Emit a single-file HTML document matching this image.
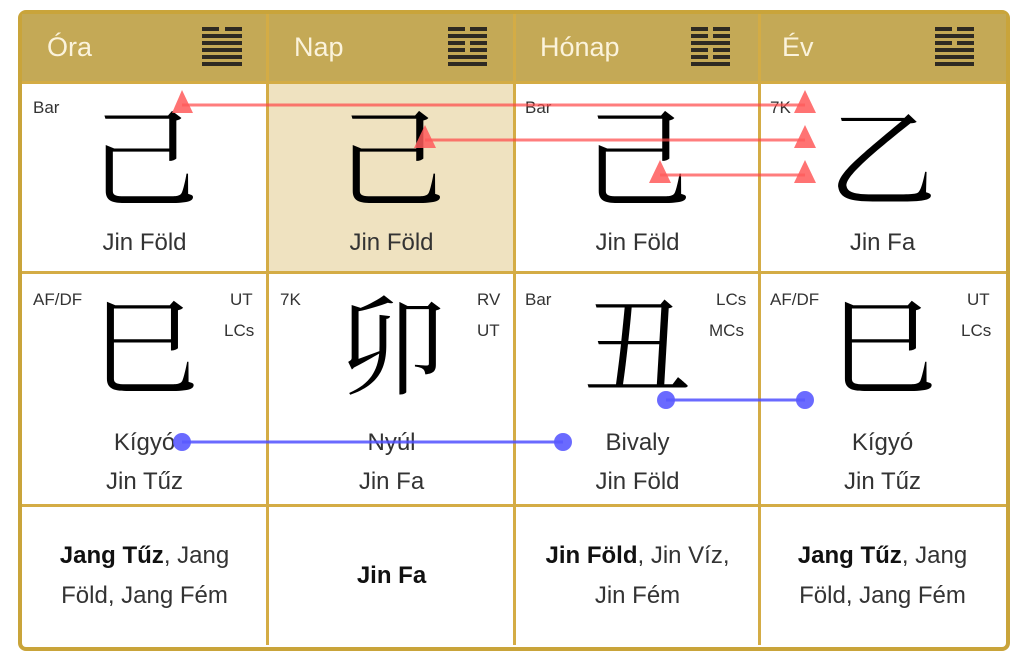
<!DOCTYPE html>
<html><head><meta charset="utf-8"><style>
body{margin:0;width:1029px;height:659px;background:#fff;position:relative;overflow:hidden;font-family:"Liberation Sans",sans-serif;color:#222}
.abs{position:absolute}
.frame{left:18px;top:10px;width:984px;height:633px;border:4px solid #c9a43a;border-radius:8px;background:#fff}
.hdr{top:14px;height:68px;background:#c4a956}
.vl{position:absolute;width:3px;background:#d4ac45;top:14px;height:631px}
.hl{position:absolute;height:3px;background:#d4ac45;left:22px;width:984px}
.ht{color:#fbf3dc;font-size:27px;top:32px}
.ch{font-family:"Noto Serif CJK SC","Noto Sans CJK SC",serif;font-size:108px;line-height:1;text-align:center;color:#000;width:245px}
.lb{font-size:24px;text-align:center;width:245px;color:#333}
.sm{font-size:17px;color:#333}
.bt{font-size:24px;text-align:center;width:245px;line-height:40px;color:#333}
b{color:#111}
</style></head><body>
<div class="abs frame"></div>
<div class="abs hdr" style="left:22px;width:984px"></div>
<div class="abs" style="left:269px;top:82px;width:245px;height:190px;background:#efe2c0"></div>
<div class="vl" style="left:266px"></div>
<div class="vl" style="left:513px"></div>
<div class="vl" style="left:758px"></div>
<div class="hl" style="top:81px"></div>
<div class="hl" style="top:271px"></div>
<div class="hl" style="top:504px"></div>

<div class="abs ht" style="left:47px">Óra</div>
<div class="abs ht" style="left:294px">Nap</div>
<div class="abs ht" style="left:540px">Hónap</div>
<div class="abs ht" style="left:782px">Év</div>

<svg class="abs" style="left:0;top:0" width="1029" height="659">
<g fill="#2e2a22">
<rect x="202" y="27" width="17" height="4"/><rect x="225" y="27" width="17" height="4"/>
<rect x="202" y="34" width="40" height="4"/><rect x="202" y="41" width="40" height="4"/><rect x="202" y="48" width="40" height="4"/><rect x="202" y="55" width="40" height="4"/><rect x="202" y="62" width="40" height="4"/>
<rect x="448" y="27" width="17" height="4"/><rect x="470" y="27" width="17" height="4"/>
<rect x="448" y="34" width="39" height="4"/>
<rect x="448" y="41" width="17" height="4"/><rect x="470" y="41" width="17" height="4"/>
<rect x="448" y="48" width="17" height="4"/><rect x="470" y="48" width="17" height="4"/>
<rect x="448" y="55" width="39" height="4"/><rect x="448" y="62" width="39" height="4"/>
<rect x="691" y="27" width="17" height="4"/><rect x="713" y="27" width="17" height="4"/>
<rect x="691" y="34" width="17" height="4"/><rect x="713" y="34" width="17" height="4"/>
<rect x="691" y="41" width="39" height="4"/>
<rect x="691" y="48" width="17" height="4"/><rect x="713" y="48" width="17" height="4"/>
<rect x="691" y="55" width="17" height="4"/><rect x="713" y="55" width="17" height="4"/>
<rect x="691" y="62" width="39" height="4"/>
<rect x="935" y="27" width="17" height="4"/><rect x="957" y="27" width="17" height="4"/>
<rect x="935" y="34" width="39" height="4"/>
<rect x="935" y="41" width="17" height="4"/><rect x="957" y="41" width="17" height="4"/>
<rect x="935" y="48" width="39" height="4"/><rect x="935" y="55" width="39" height="4"/><rect x="935" y="62" width="39" height="4"/>
</g>
</svg>

<div class="abs sm" style="left:33px;top:98px">Bar</div>
<div class="abs sm" style="left:525px;top:98px">Bar</div>
<div class="abs sm" style="left:770px;top:98px">7K</div>

<div class="abs ch" style="left:22px;top:98px">己</div>
<div class="abs ch" style="left:269px;top:98px">己</div>
<div class="abs ch" style="left:515px;top:98px">己</div>
<div class="abs ch" style="left:760px;top:98px">乙</div>
<div class="abs lb" style="left:22px;top:229px">Jin Föld</div>
<div class="abs lb" style="left:269px;top:229px">Jin Föld</div>
<div class="abs lb" style="left:515px;top:229px">Jin Föld</div>
<div class="abs lb" style="left:760px;top:229px">Jin Fa</div>

<div class="abs sm" style="left:33px;top:290px">AF/DF</div>
<div class="abs sm" style="left:230px;top:290px">UT</div>
<div class="abs sm" style="left:224px;top:321px">LCs</div>
<div class="abs sm" style="left:280px;top:290px">7K</div>
<div class="abs sm" style="left:477px;top:290px">RV</div>
<div class="abs sm" style="left:477px;top:321px">UT</div>
<div class="abs sm" style="left:525px;top:290px">Bar</div>
<div class="abs sm" style="left:716px;top:290px">LCs</div>
<div class="abs sm" style="left:709px;top:321px">MCs</div>
<div class="abs sm" style="left:770px;top:290px">AF/DF</div>
<div class="abs sm" style="left:967px;top:290px">UT</div>
<div class="abs sm" style="left:961px;top:321px">LCs</div>

<div class="abs ch" style="left:22px;top:286px">巳</div>
<div class="abs ch" style="left:269px;top:286px">卯</div>
<div class="abs ch" style="left:515px;top:286px">丑</div>
<div class="abs ch" style="left:760px;top:286px">巳</div>

<div class="abs lb" style="left:22px;top:423px;line-height:39px">Kígyó<br>Jin Tűz</div>
<div class="abs lb" style="left:269px;top:423px;line-height:39px">Nyúl<br>Jin Fa</div>
<div class="abs lb" style="left:515px;top:423px;line-height:39px">Bivaly<br>Jin Föld</div>
<div class="abs lb" style="left:760px;top:423px;line-height:39px">Kígyó<br>Jin Tűz</div>

<div class="abs bt" style="left:22px;top:536px"><b>Jang Tűz</b>, Jang<br>Föld, Jang Fém</div>
<div class="abs bt" style="left:269px;top:556px"><b>Jin Fa</b></div>
<div class="abs bt" style="left:515px;top:536px"><b>Jin Föld</b>, Jin Víz,<br>Jin Fém</div>
<div class="abs bt" style="left:760px;top:536px"><b>Jang Tűz</b>, Jang<br>Föld, Jang Fém</div>

<svg class="abs" style="left:0;top:0" width="1029" height="659">
<g stroke="rgba(255,70,70,0.7)" stroke-width="3">
<line x1="182" y1="105" x2="805" y2="105"/>
<line x1="425" y1="140" x2="805" y2="140"/>
<line x1="660" y1="175" x2="805" y2="175"/>
</g>
<g fill="rgba(255,90,90,0.85)">
<polygon points="182,90 172,113 193,113"/>
<polygon points="805,90 794,113 816,113"/>
<polygon points="425,125 414,148 436,148"/>
<polygon points="805,125 794,148 816,148"/>
<polygon points="660,160 649,183 671,183"/>
<polygon points="805,160 794,183 816,183"/>
</g>
<g stroke="rgba(80,80,255,0.85)" stroke-width="3">
<line x1="182" y1="442" x2="563" y2="442"/>
<line x1="666" y1="400" x2="805" y2="400"/>
</g>
<g fill="rgba(90,90,255,0.9)">
<circle cx="182" cy="442" r="9"/><circle cx="563" cy="442" r="9"/>
<circle cx="666" cy="400" r="9"/><circle cx="805" cy="400" r="9"/>
</g>
</svg>
</body></html>
